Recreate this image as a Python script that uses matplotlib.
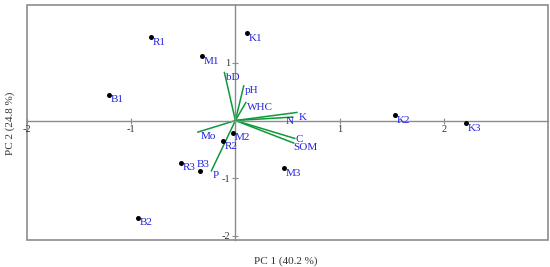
import matplotlib
matplotlib.use("Agg")
import matplotlib.pyplot as plt
from matplotlib.patches import Rectangle

# ---- data --------------------------------------------------------------------
sites = ["R1", "K1", "M1", "B1", "K2", "K3", "M2", "R2", "R3", "B3", "B2", "M3"]
site_pc1 = [-0.81, 0.11, -0.32, -1.21, 1.53, 2.21, -0.02, -0.12, -0.52, -0.34, -0.93, 0.47]
site_pc2 = [1.45, 1.52, 1.12, 0.45, 0.10, -0.05, -0.21, -0.35, -0.73, -0.88, -1.68, -0.83]

variables = ["bD", "pH", "WHC", "K", "N", "C", "SOM", "Mo", "P"]
load_pc1 = [-0.105, 0.08, 0.10, 0.59, 0.55, 0.57, 0.56, -0.36, -0.23]
load_pc2 = [0.83, 0.60, 0.31, 0.14, 0.06, -0.31, -0.39, -0.20, -0.87]

xticks = [-2, -1, 1, 2]
yticks = [-2, -1, 1]

# ---- style --------------------------------------------------------------------
GREY = "#8c8c8c"
GREEN = "#0c9a3a"
BLUE = "#2424dc"
INK = "#333333"
plt.rcParams["font.family"] = ["Liberation Serif", "DejaVu Serif"]

fig = plt.figure(figsize=(5.5, 2.67), dpi=100)
ax = fig.add_axes([0.049, 0.101, 0.9474, 0.880])
ax.set_xlim(-2, 3)
ax.set_ylim(-2.07, 2.0)

# zero axes carry the ticks, outer frame drawn as a patch
for s in ("top", "right"):
    ax.spines[s].set_visible(False)
for s in ("left", "bottom"):
    ax.spines[s].set_position(("data", 0))
    ax.spines[s].set_color(GREY)
    ax.spines[s].set_linewidth(1.0)
ax.add_patch(Rectangle((0, 0), 1, 1, transform=ax.transAxes, fill=False,
                       ec=GREY, lw=1.2, clip_on=False, zorder=0))
ax.set_xticks(xticks)
ax.set_yticks(yticks)
ax.set_xticklabels([str(t) for t in xticks])
ax.set_yticklabels([str(t) for t in yticks])
ax.tick_params(direction="inout", length=4, width=0.8, color=GREY,
               labelsize=7.5, labelcolor=INK, pad=1.5)

# loadings
for name, lx, ly in zip(variables, load_pc1, load_pc2):
    ax.plot([0, lx], [0, ly], color=GREEN, lw=1.1, zorder=2)

var_off = {"N": (0.5, -3.0, "right"), "C": (0.5, -0.5, "left"),
           "SOM": (-0.5, -3.0, "left"), "Mo": (2.0, -3.5, "left")}
for name, lx, ly in zip(variables, load_pc1, load_pc2):
    dx, dy, ha = var_off.get(name, (1.0, -3.5, "left"))
    ax.annotate(name, (lx, ly), xytext=(dx, dy), textcoords="offset points",
                ha=ha, va="center", fontsize=8, color=BLUE, zorder=4)

# site scores
ax.scatter(site_pc1, site_pc2, s=13, color="black", zorder=3, linewidths=0)
site_off = {"B3": (-2.5, 5.0)}
for name, px, py in zip(sites, site_pc1, site_pc2):
    dx, dy = site_off.get(name, (1.2, -3.8))
    ax.annotate(name, (px, py), xytext=(dx, dy), textcoords="offset points",
                ha="left", va="center", fontsize=8, color=BLUE, zorder=4)

fig.text(0.52, 0.022, "PC 1 (40.2 %)", ha="center", va="center",
         fontsize=8, color=INK)
fig.text(0.018, 0.54, "PC 2 (24.8 %)", ha="center", va="center",
         rotation=90, fontsize=8, color=INK)

fig.savefig("out.png", dpi=100, facecolor="white")
